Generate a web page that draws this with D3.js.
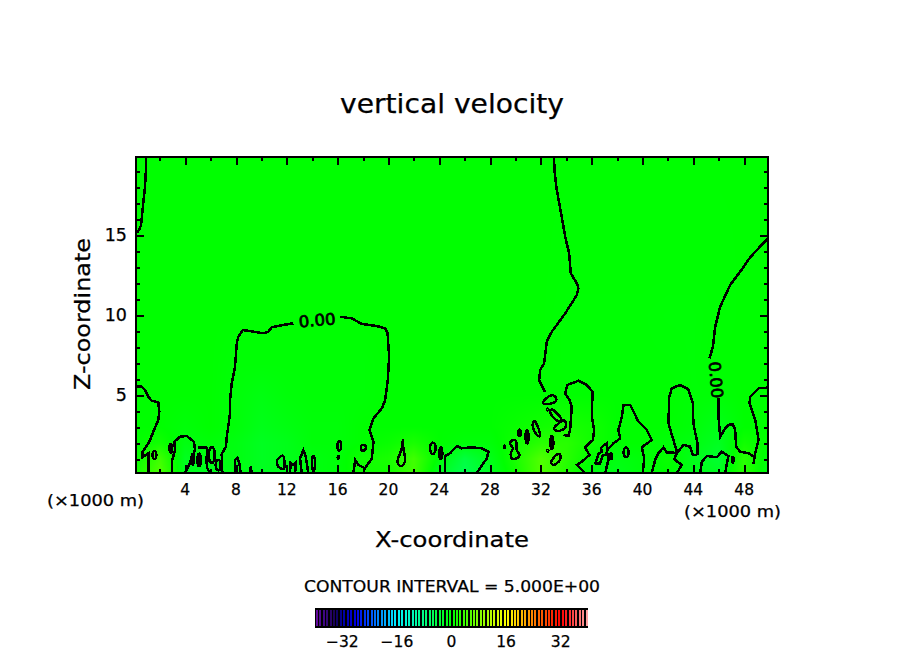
<!DOCTYPE html>
<html lang="en">

<head>
  <meta charset="UTF-8">
  <title>vertical velocity</title>
  <style>
    body {
      margin: 0;
      background: #fff;
    }

    text {
      font-family: 'DejaVu Sans', sans-serif;
      fill: #000;
      stroke: #000;
      stroke-width: 0.25px;
    }

    .contour {
      fill: none;
      stroke: #000;
      stroke-width: 2.5px;
      shape-rendering: crispEdges;
    }

    .contour-label {
      stroke-width: 0.7px;
    }

    .axis path {
      display: none;
    }

    .axis line {
      stroke: #000;
      stroke-width: 2px;
      shape-rendering: crispEdges;
    }
  </style>
</head>

<body>
  <script src="https://cdn.jsdelivr.net/npm/d3@7"></script>
  <script>
    // Tick values, in 1000 m
    const xMajorTicks = [4, 8, 12, 16, 20, 24, 28, 32, 36, 40, 44, 48];
    const xMinorTicks = [2, 6, 10, 14, 18, 22, 26, 30, 34, 38, 42, 46];
    const zMajorTicks = [5, 10, 15];
    const zMinorTicks = [1, 2, 3, 4, 6, 7, 8, 9, 11, 12, 13, 14, 16, 17, 18, 19];
    const barTicks = [-32, -16, 0, 16, 32];

    // Shaded field: w at each fieldX / fieldZ node
    const fieldX = [0, 2, 4, 6, 8, 10, 12, 14, 16, 18, 20, 22, 24, 26, 28, 30, 32, 34, 36, 38, 40, 42, 44, 46, 48, 50];
    const fieldZ = [0.125, 1, 2, 3, 5, 7, 10, 13, 20];
    const fieldW = [
      [1, 5, -2, -2, -1, -2, -1.5, -1, -0.5, 1, 1, 4, -2, -5, -2, 1, 5, 2, -1, -1.5, -0.5, 0, -1.5, -2, 2.5, -1.5],
      [0, 4, -2, -1, -1, -2, -1.5, -1, -0.5, 1, 1.5, 4, -0.5, -4, -1.5, 1.5, 5, 2.5, 0, -1, -0.5, 0.5, -1.5, -3, 2.5, -1],
      [0, 1, -1, -0.5, -1, -2, -1.5, -0.5, -0.5, 0, 0.5, 1.5, 0, -0.5, -0.5, 1, 2.5, 2.5, 1, 0, 0, -0.5, -1, -2, 1, 0],
      [0, 0, -0.5, 0, -0.5, -1.5, -1, -0.5, -0.5, 0, 0, 0, 0, 0, 0, 0.5, 1, 1.5, 1, 0, 0, 0, -0.5, -1.5, 0, 0],
      [0, 0, 0, 0, -0.5, -1, -0.5, -0.3, -0.3, -0.3, 0, 0, 0, 0, 0, 0, 0, 0, 0, 0, 0, 0, -0.3, -0.3, 0, 0],
      [0, 0, 0, 0, -0.3, -0.3, -0.3, -0.3, -0.3, -0.3, 0, 0, 0, 0, 0, 0, 0, -0.2, -0.2, -0.2, -0.2, -0.2, -0.3, 0, 0, 0],
      [0, 0, 0, 0, 0, 0, 0, 0, 0, 0, 0, 0, 0, 0, 0, 0, 0, -0.2, -0.2, -0.2, -0.2, -0.3, -0.3, -0.1, 0, 0],
      [0, 0, 0, 0, 0, 0, 0, 0, 0, 0, 0, 0, 0, 0, 0, 0, 0, -0.1, -0.1, -0.1, -0.1, -0.1, -0.1, -0.1, 0, 0],
      [0, 0, 0, 0, 0, 0, 0, 0, 0, 0, 0, 0, 0, 0, 0, 0, 0, 0, 0, 0, 0, 0, 0, 0, 0, 0]
    ];

    // Zero contour, as [x, z]
    const lineTopLeft = [[0.91, 19.875], [0.91, 19.06], [0.83, 18], [0.68, 16.88], [0.52, 15.63], [0.44, 15.44], [0.2, 15.13]];
    const lineLeftLobe = [[0.126, 5.52], [0.58, 5.52], [0.83, 5.31], [1.09, 4.89], [1.36, 4.64], [1.88, 4.54], [1.96, 3.96], [1.88, 3.44], [1.49, 2.71], [1.17, 2.08], [0.65, 1.46], [0.62, 1.11], [1.09, 1.36], [1.09, 0.125]];
    const lineArch4 = [[2.94, 0.125], [2.98, 0.94], [3.2, 1.56], [3.14, 2.08], [3.59, 2.39], [4.12, 2.44], [4.69, 2.08], [4.77, 1.56], [4.51, 1.04], [4.24, 0.52], [3.98, 0.125]];
    const lineSquiggle6 = [[5.02, 1.73], [5.66, 1.73], [5.74, 1.45], [5.66, 0.94], [5.74, 0.42], [5.93, 0.125]];
    const lineBoxLeft = [[6.92, 0.125], [6.87, 1.31], [7.21, 1.77], [7.27, 2.39], [7.53, 3.86], [7.53, 4.69], [7.66, 5.73], [7.92, 6.77], [8.06, 8.23], [8.18, 8.64], [8.53, 9.06], [9.36, 8.96], [10.15, 8.86], [10.54, 8.96], [10.81, 9.23], [11.72, 9.38], [12.51, 9.48]];
    const lineBoxRight = [[16.19, 9.89], [17.11, 9.79], [17.9, 9.44], [19.08, 9.31], [19.74, 9.17], [19.93, 8.86], [20.05, 7.39], [19.95, 5.94], [19.74, 4.69], [19.48, 4.17], [18.82, 3.54], [18.5, 2.81], [18.82, 2.08], [18.69, 1.04], [18.16, 0.42], [17.64, 0.63], [17.38, 0.94], [17.24, 0.125]];
    const lineLoop8 = [[7.92, 0.125], [7.92, 0.94], [8.1, 1.08], [8.26, 0.73], [8.37, 0.125]];
    const lineSpike9 = [[9.1, 0.125], [9.16, 0.52], [9.24, 0.125]];
    const lineLoop12 = [[12.25, 0.125], [12.3, 0.77], [12.51, 0.63], [12.7, 0.77], [12.65, 0.125]];
    const lineLoop13 = [[13.17, 0.125], [13.04, 1.04], [13.3, 1.56], [13.49, 1.14], [13.69, 0.125]];
    const lineShelf26 = [[24.46, 0.125], [24.46, 1.19], [24.85, 1.36], [25.38, 1.81], [25.77, 1.67], [26.56, 1.73], [27.35, 1.67], [27.87, 1.46], [27.74, 1.04], [27.08, 0.27], [26.9, 0.125]];
    const lineCentre33 = [[33.04, 19.875], [33.06, 19.06], [33.25, 17.81], [33.64, 16.14], [33.91, 14.89], [34.22, 13.86], [34.35, 12.6], [34.83, 11.98], [34.95, 11.67], [34.83, 11.25], [33.91, 10.1], [32.86, 8.96], [32.46, 8.33], [32.25, 6.98], [31.94, 6.56], [31.86, 5.94], [32.33, 5.19]];
    const lineArch35 = [[33.77, 2.5], [34.17, 2.44], [34.3, 2.81], [34.43, 4.27], [34.24, 4.69], [33.9, 5.11], [34.09, 5.63], [34.95, 5.89], [35.61, 5.63], [36.06, 5.21], [36.01, 3.64], [36.19, 2.81], [36.09, 2.19], [35.48, 1.73], [35.82, 1.25], [35.22, 0.83], [34.83, 0.63], [35.22, 0.31], [35.48, 0.125]];
    const lineSquiggle37 = [[36.27, 0.69], [36.53, 1.31], [36.8, 1.46], [36.72, 1.67], [36.98, 1.88], [37.19, 1.98], [37.24, 1.56], [37.13, 1.25], [36.87, 1.25], [36.66, 0.73], [36.27, 0.69]];
    const lineHill39 = [[37.06, 0.125], [37.31, 0.94], [37.19, 1.56], [37.71, 1.98], [38.24, 2.29], [38.1, 2.81], [38.37, 3.64], [38.5, 4.38], [39.03, 4.38], [39.42, 3.75], [39.68, 3.33], [40.34, 2.81], [40.73, 2.19], [39.94, 1.73], [40.13, 1.04], [40.02, 0.125]];
    const lineArch43 = [[42.7, 1.46], [42.43, 2.19], [42.04, 3.23], [42.1, 4.89], [42.31, 5.42], [42.96, 5.63], [43.61, 5.36], [43.96, 4.48], [44, 3.23], [44.32, 1.98], [44.32, 1.25]];
    const lineBase42 = [[40.73, 0.125], [40.99, 0.94], [41.25, 1.36], [41.65, 1.73], [41.91, 1.42], [42.49, 1.39], [42.7, 1.36], [42.49, 0.98], [43.09, 0.63], [42.7, 0.125]];
    const lineInner43 = [[42.7, 1.36], [43.22, 1.88], [43.75, 1.77], [43.96, 1.25], [44.32, 1.25]];
    const lineBase45 = [[44.54, 0.125], [44.67, 0.83], [45.06, 1.19], [45.85, 1.11], [46.24, 1.46], [46.76, 1.19], [46.5, 0.125]];
    const lineUpperRight = [[49.875, 14.78], [49.79, 14.73], [49, 14.06], [48.47, 13.6], [47.69, 12.71], [46.9, 11.88], [46.11, 10.52], [45.72, 9.27], [45.54, 8.02], [45.27, 7.29]];
    const lineLowerRight = [[45.98, 4.79], [45.98, 3.64], [46.11, 2.39], [46.5, 2.92], [46.76, 3.13], [47.11, 3.19], [47.29, 2.81], [47.37, 1.77], [47.69, 1.46], [48.34, 1.36], [48.81, 1.11], [48.73, 0.69]];
    const lineRightLobe = [[49.875, 5.46], [49.13, 5.42], [48.47, 4.89], [48.42, 4.48], [48.87, 3.44], [49.13, 2.19], [48.87, 1.36], [48.81, 1.11]];
    const openContours = [lineTopLeft, lineLeftLobe, lineArch4, lineSquiggle6, lineBoxLeft, lineBoxRight, lineLoop8, lineSpike9,
      lineLoop12, lineLoop13, lineShelf26, lineCentre33, lineArch35, lineSquiggle37, lineHill39, lineArch43, lineBase42,
      lineInner43, lineBase45, lineUpperRight, lineLowerRight, lineRightLobe];

    // Closed irregular loops
    const closedContours = [
      [[11.25, 0.94], [11.72, 1.19], [11.78, 0.42], [11.33, 0.52]],
      [[21.13, 2.19], [21.05, 1.67], [20.7, 0.83], [21.05, 0.56], [21.31, 0.94], [21.17, 1.67]],
      [[29.79, 2.19], [30.05, 2.08], [30.1, 1.56], [30.31, 1.25], [30.1, 1.04], [29.71, 1.04], [29.63, 1.36], [29.79, 1.67], [29.57, 1.98]],
      [[31.49, 3.38], [31.8, 2.92], [31.94, 2.46], [31.68, 2.5], [31.36, 3.02]],
      [[32.17, 4.56], [32.73, 4.96], [33.16, 4.88], [33.12, 4.56], [32.41, 4.42]],
      [[32.73, 4], [32.97, 4.06], [33.6, 3.53], [33.35, 3.38], [32.88, 3.69]],
      [[33.04, 2.94], [33.67, 3.38], [33.94, 3.31], [33.9, 2.94], [33.35, 2.75]],
      [[32.8, 0.81], [33.19, 1.25], [33.5, 1.28], [33.5, 0.94], [33.04, 0.63]]
    ];

    // Small ovals: x, z, half width, half height
    const contourOvals = [
      [1.58, 1.25, 0.15, 0.25], [2.86, 1.67, 0.1, 0.27], [4.59, 0.98, 0.1, 0.34], [5.09, 0.94, 0.13, 0.4],
      [6.09, 1.25, 0.23, 0.5], [6.6, 0.62, 0.2, 0.33], [14.09, 0.73, 0.13, 0.47], [16.13, 1.83, 0.15, 0.3],
      [16.05, 1.1, 0.05, 0.08], [18.02, 1.7, 0.2, 0.18], [23.49, 1.67, 0.22, 0.36], [24.12, 1.36, 0.12, 0.37],
      [29.13, 1.75, 0.05, 0.08], [30.31, 2.64, 0.1, 0.2], [30.91, 2.39, 0.12, 0.42], [32.86, 2.02, 0.12, 0.42],
      [32.51, 4.1, 0.05, 0.06], [32.54, 1.52, 0.05, 0.06], [37.52, 1.17, 0.08, 0.19], [38.71, 1.42, 0.2, 0.3],
      [47.11, 0.95, 0.05, 0.19]
    ];

    // Contour labels: x, z, rotation
    const labelX = [14.38, 45.8];
    const labelZ = [9.69, 5.94];
    const labelAngle = [-5, 85];
    const labelText = ['0.00', '0.00'];

    // Shared colour ramp, same for the field and the colour bar
    const rampValues = [-40, -38, -34, -32, -28, -24, -16, -8, 0, 8, 16, 24, 32, 36, 40];
    const rampColors = ['#6a0aa0', '#46088a', '#140050', '#0000a0', '#0000e6', '#0050ff', '#00f0ff', '#00ff80', '#00ff00',
      '#80ff00', '#ffff00', '#ff8000', '#ff0000', '#ff5050', '#ffaaaa'];
    const barLevels = d3.range(-40, 40);

    let margin = { top: 157, left: 136 };
    let plotWidth = 632;
    let plotHeight = 316;

    let color = d3.scaleLinear().domain(rampValues).range(rampColors).clamp(true);

    let svg = d3.select('body').append('svg')
      .attr('width', 904)
      .attr('height', 654)
      .style('display', 'block');

    let plot = svg.append('g')
      .attr('transform', `translate(${margin.left}, ${margin.top})`);

    let xScale = d3.scaleLinear().domain([0.125, 49.875]).range([0, plotWidth]);
    let yScale = d3.scaleLinear().domain([0.125, 19.875]).range([plotHeight, 0]);

    // Bilinear lookup between the field nodes
    function fieldAt(x, z) {
      let i = Math.min(d3.bisectRight(fieldX, x), fieldX.length - 1);
      let j = Math.min(d3.bisectRight(fieldZ, z), fieldZ.length - 1);
      let tx = (x - fieldX[i - 1]) / (fieldX[i] - fieldX[i - 1]);
      let tz = (z - fieldZ[j - 1]) / (fieldZ[j] - fieldZ[j - 1]);
      let low = fieldW[j - 1][i - 1] * (1 - tx) + fieldW[j - 1][i] * tx;
      let high = fieldW[j][i - 1] * (1 - tx) + fieldW[j][i] * tx;
      return low * (1 - tz) + high * tz;
    }

    // Paint the field on a canvas, then put it in the svg as an image
    let canvas = document.createElement('canvas');
    canvas.width = plotWidth;
    canvas.height = plotHeight;
    let ctx = canvas.getContext('2d');
    d3.range(plotWidth).forEach(px => {
      d3.range(plotHeight).forEach(py => {
        ctx.fillStyle = color(fieldAt(xScale.invert(px + 0.5), yScale.invert(py + 0.5)));
        ctx.fillRect(px, py, 1, 1);
      });
    });
    plot.append('image')
      .attr('width', plotWidth)
      .attr('height', plotHeight)
      .attr('href', canvas.toDataURL());

    // Contours
    let line = d3.line().x(d => xScale(d[0])).y(d => yScale(d[1]));
    let closedLine = d3.line().x(d => xScale(d[0])).y(d => yScale(d[1])).curve(d3.curveCardinalClosed);

    plot.selectAll('.open')
      .data(openContours).enter()
      .append('path')
      .attr('class', 'contour open')
      .attr('d', line);

    plot.selectAll('.closed')
      .data(closedContours).enter()
      .append('path')
      .attr('class', 'contour closed')
      .attr('d', closedLine);

    plot.selectAll('.oval')
      .data(contourOvals).enter()
      .append('ellipse')
      .attr('class', 'contour oval')
      .attr('cx', d => xScale(d[0]))
      .attr('cy', d => yScale(d[1]))
      .attr('rx', d => xScale(d[0] + d[2]) - xScale(d[0]))
      .attr('ry', d => yScale(d[1]) - yScale(d[1] + d[3]));

    plot.selectAll('.contour-label')
      .data(labelText).enter()
      .append('text')
      .attr('class', 'contour-label')
      .attr('transform', (d, i) => `translate(${xScale(labelX[i])}, ${yScale(labelZ[i])}) rotate(${labelAngle[i]})`)
      .attr('dy', '0.37em')
      .attr('textLength', 37)
      .attr('lengthAdjust', 'spacingAndGlyphs')
      .style('text-anchor', 'middle')
      .style('font-size', '16px')
      .text(d => d);

    // Ticks point inward on all four sides
    function ticks(axis, values, size) {
      return axis.tickValues(values).tickSizeInner(-size).tickSizeOuter(0).tickFormat('');
    }
    let bottomAxis = plot.append('g').attr('class', 'axis').attr('transform', `translate(0, ${plotHeight})`);
    let topAxis = plot.append('g').attr('class', 'axis');
    let leftAxis = plot.append('g').attr('class', 'axis');
    let rightAxis = plot.append('g').attr('class', 'axis').attr('transform', `translate(${plotWidth}, 0)`);

    bottomAxis.append('g').call(ticks(d3.axisBottom(xScale), xMajorTicks, 8));
    bottomAxis.append('g').call(ticks(d3.axisBottom(xScale), xMinorTicks, 4));
    topAxis.append('g').call(ticks(d3.axisTop(xScale), xMajorTicks, 8));
    topAxis.append('g').call(ticks(d3.axisTop(xScale), xMinorTicks, 4));
    leftAxis.append('g').call(ticks(d3.axisLeft(yScale), zMajorTicks, 8));
    leftAxis.append('g').call(ticks(d3.axisLeft(yScale), zMinorTicks, 4));
    rightAxis.append('g').call(ticks(d3.axisRight(yScale), zMajorTicks, 8));
    rightAxis.append('g').call(ticks(d3.axisRight(yScale), zMinorTicks, 4));

    // Frame
    plot.append('rect')
      .attr('width', plotWidth)
      .attr('height', plotHeight)
      .style('fill', 'none')
      .style('stroke', '#000')
      .style('stroke-width', 2)
      .style('shape-rendering', 'crispEdges');

    // Tick labels
    plot.selectAll('.x-label')
      .data(xMajorTicks).enter()
      .append('text')
      .attr('class', 'x-label')
      .attr('x', d => xScale(d))
      .attr('y', plotHeight + 21.5)
      .style('text-anchor', 'middle')
      .style('font-size', '15.5px')
      .text(d => d);

    plot.selectAll('.z-label')
      .data(zMajorTicks).enter()
      .append('text')
      .attr('class', 'z-label')
      .attr('x', -9)
      .attr('y', d => yScale(d))
      .attr('dy', '0.37em')
      .style('text-anchor', 'end')
      .style('font-size', '17.5px')
      .text(d => d);

    // Titles and captions, stretched to the widths of the reference
    function caption(text, x, y, size, length) {
      return svg.append('text')
        .attr('x', x)
        .attr('y', y)
        .attr('textLength', length)
        .attr('lengthAdjust', 'spacingAndGlyphs')
        .style('text-anchor', 'middle')
        .style('font-size', size + 'px')
        .text(text);
    }
    caption('vertical velocity', 452, 113, 27, 224);
    caption('X-coordinate', 452, 547, 22, 154);
    caption('(×1000 m)', 95.5, 506, 15.5, 97);
    caption('(×1000 m)', 732.5, 517, 15.5, 97);
    caption('CONTOUR INTERVAL = 5.000E+00', 452, 592, 16, 296);
    svg.append('text')
      .attr('transform', 'translate(90, 314) rotate(-90)')
      .attr('textLength', 152)
      .attr('lengthAdjust', 'spacingAndGlyphs')
      .style('text-anchor', 'middle')
      .style('font-size', '22px')
      .text('Z-coordinate');

    // Colour bar
    let barScale = d3.scaleLinear().domain([-40, 40]).range([315, 588]);
    let bar = svg.append('g');

    bar.append('rect')
      .attr('x', barScale(-40))
      .attr('y', 608)
      .attr('width', barScale(40) - barScale(-40))
      .attr('height', 20)
      .style('fill', '#000');

    bar.selectAll('.level')
      .data(barLevels).enter()
      .append('rect')
      .attr('class', 'level')
      .attr('x', d => barScale(d) + 1)
      .attr('y', 610)
      .attr('width', 2)
      .attr('height', 16)
      .style('shape-rendering', 'crispEdges')
      .style('fill', d => color(d + 0.5));

    bar.selectAll('.bar-label')
      .data(barTicks).enter()
      .append('text')
      .attr('class', 'bar-label')
      .attr('x', d => barScale(d))
      .attr('y', 647)
      .style('text-anchor', 'middle')
      .style('font-size', '15.5px')
      .text(d => d3.format('d')(d));
  </script>
</body>

</html>
